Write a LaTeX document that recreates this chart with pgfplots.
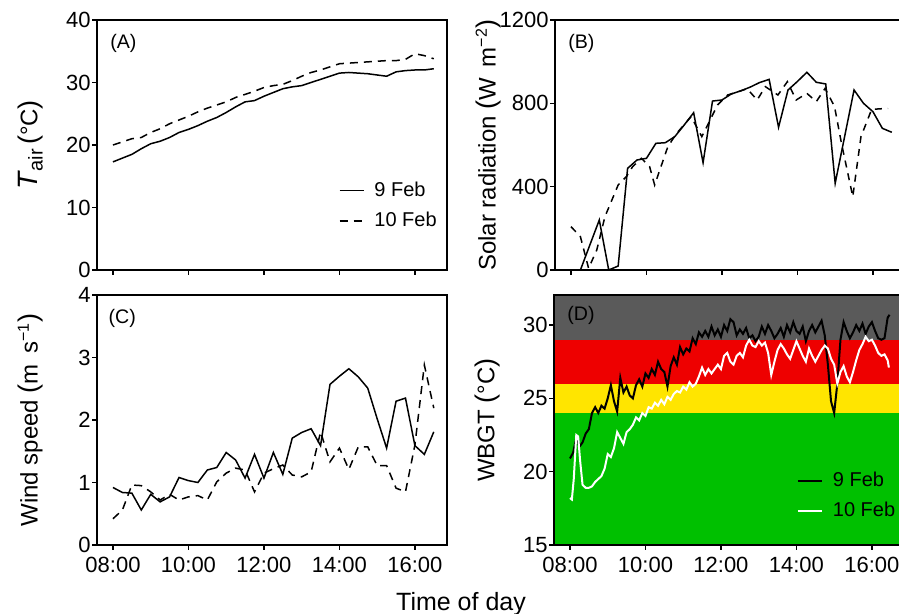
\documentclass[border=0pt]{standalone}
\usepackage{fontspec}
\setmainfont{Liberation Sans}
\usepackage{pgfplots}
\pgfplotsset{compat=1.18}

\definecolor{bgrey}{HTML}{5A5A5A}
\definecolor{bred}{HTML}{EE0000}
\definecolor{byellow}{HTML}{FFE500}
\definecolor{bgreen}{HTML}{00C000}

\newcommand{\lp}{{\fontsize{13.5pt}{13.5pt}\selectfont(}}
\newcommand{\rp}{{\fontsize{13.5pt}{13.5pt}\selectfont)}}

\tikzset{
  dsh/.style={black, dash pattern=on 4pt off 3pt},
  plab/.style={anchor=west, inner sep=0pt, font=\fontsize{9.8pt}{11pt}\selectfont},
}

\pgfplotsset{
  panel/.style={
    scale only axis, width=175pt, height=125pt,
    xmin=-25.4, xmax=531,
    xtick={0,120,240,360,480},
    xtick pos=bottom, ytick pos=left,
    tick align=outside, major tick length=2.5pt,
    axis line style={line width=1pt},
    tick style={line width=0.8pt, black},
    /pgf/number format/assume math mode=true,
    /pgf/number format/1000 sep={},
    tick label style={font=\fontsize{11pt}{12pt}\selectfont},
    yticklabel style={inner xsep=0.5pt},
    xticklabel style={yshift=0pt},
    label style={font=\fontsize{12pt}{14pt}\selectfont},
    ylabel style={at={(axis description cs:-0.19,0.5)}, anchor=center},
    every axis plot/.append style={line width=0.75pt},
    legend style={draw=none, fill=none, at={(axis description cs:0.69,0.37)},
      anchor=north west, font=\fontsize{10pt}{12pt}\selectfont,
      row sep=2.5pt, inner sep=0pt,
      /tikz/every odd column/.append style={column sep=3pt}},
    legend cell align=left,
    legend image code/.code={\draw[##1] (0pt,0pt) -- (12pt,0pt);},
  },
}

\begin{document}
\begin{tikzpicture}

% (A) air temperature
\begin{axis}[panel, at={(48.5pt,172pt)}, anchor=south west,
  ymin=0, ymax=40, ytick={0,10,20,30,40}, xticklabels={},
  ylabel={{\fontsize{14pt}{14pt}\selectfont\textit{T}}\raisebox{-0.4ex}{\fontsize{10pt}{10pt}\selectfont air}\,\lp°C\rp}]
\addplot[black] coordinates {
 (0,17.3) (15,17.9) (30,18.5) (45,19.4) (60,20.2) (75,20.6) (90,21.2) (105,22.0)
 (120,22.5) (135,23.1) (150,23.8) (165,24.4) (180,25.2) (195,26.1) (210,26.9) (225,27.1)
 (240,27.8) (255,28.4) (270,29.0) (285,29.3) (300,29.5) (315,30.0) (330,30.5) (345,31.0)
 (360,31.5) (375,31.6) (390,31.5) (405,31.4) (420,31.2) (435,31.0) (450,31.7) (465,31.9)
 (480,32.0) (495,32.0) (510,32.2)};
\addlegendentry{9 Feb}
\addplot[dsh] coordinates {
 (0,20.0) (15,20.5) (30,21.0) (45,21.2) (60,22.0) (75,22.6) (90,23.4) (105,24.0)
 (120,24.6) (135,25.3) (150,25.9) (165,26.4) (180,26.9) (195,27.6) (210,28.1) (225,28.6)
 (240,29.2) (255,29.5) (270,29.7) (285,30.3) (300,31.0) (315,31.6) (330,32.0) (345,32.5)
 (360,33.0) (375,33.1) (390,33.2) (405,33.3) (420,33.4) (435,33.5) (450,33.5) (465,33.7)
 (480,34.6) (495,34.3) (510,33.8)};
\addlegendentry{10 Feb}
\node[plab] at (axis description cs:0.037,0.906) {(A)};
\end{axis}

% (B) solar radiation
\begin{axis}[panel, at={(277.5pt,172pt)}, anchor=south west,
  ymin=0, ymax=1200, ytick={0,400,800,1200}, xticklabels={},
  ylabel={Solar radiation \lp W\, m\textsuperscript{−2}\rp}]
\addplot[black] coordinates {
 (0,0) (15,0) (45,240) (60,0) (75,19) (90,488) (105,528) (120,536) (135,608) (150,611)
 (165,640) (180,696) (195,755) (210,515) (225,811) (240,816) (255,845) (270,860)
 (285,878) (300,900) (315,915) (330,685) (345,864) (360,905) (375,949) (390,901)
 (405,893) (420,416) (450,864) (465,800) (480,760) (495,680) (510,661)};
\addplot[dsh, dash pattern=on 3.5pt off 3pt] coordinates {
 (0,208) (15,160) (28,8) (41,96) (54,256) (75,408) (88,448) (98,496) (112,536)
 (125,496) (133,408) (154,592) (168,656) (191,736) (208,640) (233,792) (249,840)
 (265,855) (280,870) (296,816) (309,880) (329,840) (344,904) (358,816) (375,848)
 (390,808) (404,872) (419,784) (430,608) (448,352) (461,640) (478,771) (504,776)};
\node[plab] at (axis description cs:0.037,0.906) {(B)};
\end{axis}

% (C) wind speed
\begin{axis}[panel, at={(48.5pt,34.5pt)}, anchor=south west,
  ymin=0, ymax=4, ytick={0,1,2,3,4},
  xticklabels={08:00,10:00,12:00,14:00,16:00},
  ylabel={Wind speed \lp m\, s\textsuperscript{−1}\rp}]
\addplot[black] coordinates {
 (0,0.92) (15,0.84) (30,0.83) (45,0.56) (60,0.81) (75,0.69) (90,0.77) (105,1.08)
 (120,1.03) (135,1.00) (150,1.20) (165,1.24) (180,1.48) (195,1.36) (210,1.07) (225,1.45)
 (240,1.07) (255,1.48) (270,1.13) (285,1.71) (300,1.80) (315,1.86) (330,1.59) (345,2.57)
 (360,2.70) (375,2.82) (390,2.69) (405,2.51) (420,2.02) (435,1.55) (450,2.30) (465,2.35)
 (480,1.59) (495,1.45) (510,1.81)};
\addplot[dsh] coordinates {
 (0,0.42) (15,0.56) (30,0.96) (45,0.95) (60,0.85) (75,0.72) (90,0.81) (105,0.72)
 (120,0.77) (135,0.79) (150,0.72) (165,1.01) (180,1.15) (195,1.23) (210,1.20) (225,0.85)
 (240,1.15) (255,1.22) (270,1.28) (285,1.12) (300,1.09) (315,1.17) (330,1.81) (345,1.33)
 (360,1.55) (375,1.21) (390,1.57) (405,1.57) (420,1.27) (435,1.27) (450,0.91) (465,0.85)
 (480,1.60) (495,2.88) (510,2.19)};
\node[plab] at (axis description cs:0.032,0.905) {(C)};
\end{axis}

% (D) WBGT
\begin{axis}[panel, at={(277pt,34.5pt)}, anchor=south west, axis on top,
  ymin=15, ymax=32.05, ytick={15,20,25,30},
  xticklabels={08:00,10:00,12:00,14:00,16:00},
  ylabel={WBGT \lp°C\rp},
  every axis plot/.append style={line width=1pt},
  legend style={at={(axis description cs:0.693,0.31)}}]
\addplot[fill=bgrey, draw=none, forget plot] coordinates {(-40,34) (560,34)} \closedcycle;
\addplot[fill=bred, draw=none, forget plot] coordinates {(-40,29) (560,29)} \closedcycle;
\addplot[fill=byellow, draw=none, forget plot] coordinates {(-40,26) (560,26)} \closedcycle;
\addplot[fill=bgreen, draw=none, forget plot] coordinates {(-40,24) (560,24)} \closedcycle;
\addplot[black] coordinates {
 (0,20.9) (5,21.3) (10,22.3) (15,21.7) (20,22.0) (25,22.6) (30,22.9) (35,24.0) (40,24.4)
 (45,24.0) (50,24.5) (55,24.3) (60,25.0) (65,25.9) (70,24.8) (75,24.1) (80,26.4) (85,25.4)
 (90,25.8) (95,25.2) (100,25.0) (105,25.9) (110,26.3) (115,25.8) (120,26.7) (125,26.4)
 (130,27.0) (135,26.6) (140,27.5) (145,27.0) (150,26.8) (155,25.8) (160,27.2) (165,27.8)
 (170,27.3) (175,28.5) (180,28.0) (185,28.4) (190,28.2) (195,29.1) (200,28.7) (205,29.5)
 (210,29.2) (215,29.6) (220,29.2) (225,29.9) (230,29.3) (235,29.7) (240,29.2) (245,30.0)
 (250,29.6) (255,30.4) (260,30.2) (265,29.3) (270,29.7) (275,29.4) (280,29.8) (285,29.1)
 (290,29.3) (295,28.9) (300,29.2) (305,29.9) (310,29.4) (315,30.0) (320,29.6) (325,29.1)
 (330,29.4) (335,29.8) (340,29.2) (345,30.0) (350,29.5) (355,30.2) (360,29.6) (365,29.4)
 (370,29.9) (375,28.9) (380,29.6) (385,30.0) (390,29.5) (395,29.9) (400,30.3) (405,29.3)
 (410,27.3) (415,24.8) (420,24.0) (425,26.0) (430,29.0) (435,30.2) (440,29.6) (445,29.1)
 (450,29.5) (455,30.0) (460,29.6) (465,30.1) (470,29.4) (475,29.9) (480,30.2) (485,29.6)
 (490,29.1) (495,29.0) (500,29.1) (505,30.5) (508,30.7)};
\addlegendentry{9 Feb}
\addplot[white] coordinates {
 (0,18.2) (3,18.1) (6,19.5) (10,22.5) (13,22.4) (16,20.8) (20,19.1) (25,18.9) (30,18.9)
 (35,19.0) (40,19.3) (45,19.5) (50,19.7) (55,20.2) (60,21.2) (65,21.0) (70,21.6) (75,22.7)
 (80,22.3) (85,21.9) (90,22.7) (95,22.9) (100,23.2) (105,23.7) (110,23.5) (115,24.0)
 (120,23.8) (125,24.4) (130,24.3) (135,24.7) (140,24.5) (145,24.9) (150,24.6) (155,25.1)
 (160,24.9) (165,25.3) (170,25.5) (175,25.4) (180,25.8) (185,25.6) (190,26.1) (195,25.8)
 (200,26.0) (205,26.5) (210,27.1) (215,26.6) (220,27.0) (225,26.7) (230,27.0) (235,27.3)
 (240,27.0) (245,27.9) (250,28.1) (255,27.5) (260,27.3) (265,27.9) (270,28.1) (275,27.8)
 (280,28.6) (285,29.0) (290,28.6) (295,28.5) (300,28.9) (305,28.6) (310,28.8) (315,28.1)
 (320,26.6) (325,27.5) (330,28.3) (335,28.7) (340,28.4) (345,28.0) (350,27.7) (355,28.3)
 (360,28.9) (365,28.4) (370,27.9) (375,27.5) (380,28.4) (385,27.9) (390,27.5) (395,27.9)
 (400,28.3) (405,28.6) (410,28.4) (415,27.7) (420,27.3) (425,26.0) (430,26.8) (435,27.2)
 (440,26.5) (445,26.1) (450,26.8) (455,27.6) (460,28.3) (465,28.7) (470,29.2) (475,28.9)
 (480,29.0) (485,28.6) (490,28.1) (495,27.9) (500,28.0) (505,27.6) (507,27.1)};
\addlegendentry{10 Feb}
\node[plab] at (axis description cs:0.037,0.92) {(D)};
\end{axis}

\node[anchor=base, font=\fontsize{12.5pt}{14pt}\selectfont] at (230.5pt,1.5pt) {Time of day};

\pgfresetboundingbox
\useasboundingbox (0,0) rectangle (449.5pt,307pt);
\end{tikzpicture}
\end{document}
